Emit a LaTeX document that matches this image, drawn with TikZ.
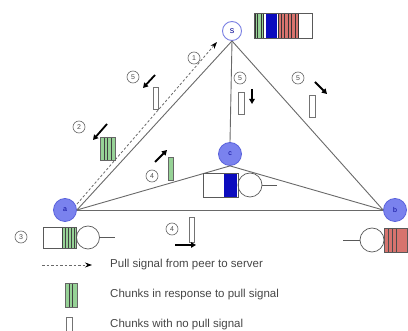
\documentclass[tikz,border=0pt]{standalone}
\usepackage{fontspec}
\setmainfont{Liberation Sans}
\usetikzlibrary{arrows.meta}

\definecolor{peerfill}{RGB}{122,130,238}
\definecolor{peerline}{RGB}{90,98,220}
\definecolor{chunkgreen}{RGB}{150,210,150}
\definecolor{chunkred}{RGB}{215,115,110}
\definecolor{qblue}{RGB}{12,12,190}
\definecolor{edgegray}{RGB}{105,105,105}
\definecolor{legendtext}{RGB}{70,70,70}

\tikzset{
  peer/.style={circle, draw=peerline, fill=peerfill, line width=0.8pt,
    minimum size=23pt, inner sep=0pt, text=qblue!80!black,
    font=\fontsize{7}{7}\selectfont},
  srv/.style={circle, draw=peerline!80, fill=white, line width=0.9pt,
    minimum size=19pt, inner sep=0pt, text=qblue!80!black,
    font=\fontsize{9}{9}\selectfont},
  link/.style={draw=edgegray, line width=0.9pt},
  pullsig/.style={draw=edgegray, line width=0.8pt, dash pattern=on 2.5pt off 2pt,
    -{Stealth[length=7pt,width=5pt,black]}},
  stepnum/.style={circle, draw=black!60, line width=0.6pt, inner sep=0pt,
    minimum size=12pt, font=\fontsize{7}{7}\selectfont, text=black!70},
  flow/.style={line width=1.8pt, black,
    -{Triangle[length=5pt,width=5.5pt]}},
  plainchunk/.style={draw=black!55, fill=white, line width=0.6pt,
    minimum width=5.5pt, minimum height=22pt, inner sep=0pt},
  greenchunk/.style={draw=black!60, fill=chunkgreen, line width=0.6pt,
    minimum width=5pt, minimum height=23pt, inner sep=0pt},
  stripes/.style={path picture={
    \foreach \t in {#1}
      \draw[black!75, line width=0.5pt]
        ([xshift=\t]path picture bounding box.north west) --
        ([xshift=\t]path picture bounding box.south west);}},
  qline/.style={draw=black!65, line width=0.7pt},
  legendlabel/.style={anchor=west, text=legendtext,
    font=\fontsize{11.5}{12}\selectfont, inner sep=0pt}
}

\begin{document}
\begin{tikzpicture}[x=1pt, y=-1pt]
\useasboundingbox (0,0) rectangle (408,331);

% server and peers
\node[srv]  (s) at (232,31)  {s};
\node[peer] (a) at (65,210)  {a};
\node[peer] (b) at (395,210) {b};
\node[peer] (c) at (230,154) {c};

% overlay links, all leaving each node from one port
\draw[link] (s.south) -- (a.east);
\draw[link] (s.south) -- (b.west);
\draw[link] (s.south) -- (c.north);
\draw[link] (a.east) -- (b.west);
\draw[link] (a.east) -- (c.south) -- (b.west);

% pull signal from a to the server
\coordinate (pa) at (77,204);
\coordinate (ps) at (217,42);
\draw[pullsig] (pa) -- (ps);

% step numbers
\node[stepnum] (n1)  at (194,58)  {1};
\node[stepnum] (n2)  at (79,127)  {2};
\node[stepnum] (n3)  at (21,237)  {3};
\node[stepnum] (n4a) at (152,176) {4};
\node[stepnum] (n4b) at (172,229) {4};
\node[stepnum] (n5a) at (133,77)  {5};
\node[stepnum] (n5b) at (240,78)  {5};
\node[stepnum] (n5c) at (298,78)  {5};

% chunks in transit
\node[greenchunk, minimum width=15pt, stripes={4pt,7.5pt,11pt}] (k2) at (107.5,148.5) {};
\node[plainchunk] (k5a) at (156,98) {};
\node[plainchunk] (k5b) at (241.5,103.5) {};
\node[plainchunk] (k5c) at (312.5,106) {};
\node[greenchunk] (k4a) at (170.5,168.5) {};
\node[plainchunk, minimum width=4.5pt, minimum height=25pt] (k4b) at (192,229.5) {};

% direction of each chunk
\coordinate (f2s) at (107,124);  \coordinate (f2e) at (93,140);
\coordinate (f5as) at (155,75);  \coordinate (f5ae) at (143,88);
\coordinate (f4as) at (155,162); \coordinate (f4ae) at (167,150);
\coordinate (f4bs) at (175,245); \coordinate (f4be) at (196,245);
\coordinate (f5bs) at (252,89);  \coordinate (f5be) at (252,104);
\coordinate (f5cs) at (315,82);  \coordinate (f5ce) at (327,94);
\draw[flow] (f2s) -- (f2e);
\draw[flow] (f5as) -- (f5ae);
\draw[flow] (f4as) -- (f4ae);
\draw[flow] (f4bs) -- (f4be);
\draw[flow] (f5bs) -- (f5be);
\draw[flow] (f5cs) -- (f5ce);

% server buffer
\fill[chunkgreen] (255,13) rectangle (263,38);
\fill[qblue] (266,13) rectangle (277,38);
\fill[chunkred] (278,13) rectangle (298,38);
\foreach \x in {255,257,261,263,278,281,284,288,291,295,298}
  \draw[black!80, line width=0.6pt] (\x,13) -- (\x,38);
\draw[qline] (254,13) rectangle (312,38);

% queue at c
\fill[qblue] (224,173) rectangle (237,197);
\draw[qline] (203,173) rectangle (238,197);
\draw[qline] (250,185) circle[radius=12];
\draw[qline] (262,185) -- (277,185);

% queue at a
\fill[chunkgreen] (62,227) rectangle (76,248);
\foreach \x in {62,65,68,71,74}
  \draw[black!75, line width=0.5pt] (\x,227) -- (\x,248);
\draw[qline] (43,227) rectangle (76,248);
\draw[qline] (88,237.5) circle[radius=11.5];
\draw[qline] (99.5,237.5) -- (115,237.5);

% queue at b
\draw[qline] (343,240) -- (360,240);
\draw[qline] (372,240) circle[radius=12];
\fill[chunkred] (384,228) rectangle (407,252);
\foreach \x in {388,392,396}
  \draw[black!70, line width=0.6pt] (\x,228) -- (\x,252);
\draw[qline] (384,228) rectangle (407,252);

% legend
\coordinate (lg1) at (42,265);
\coordinate (lg2) at (92,265);
\draw[pullsig] (lg1) -- (lg2);
\node[legendlabel] (t1) at (110,265) {Pull signal from peer to server};
\node[greenchunk, minimum width=12pt, minimum height=24pt, stripes={4.5pt,7.5pt}] (lk1) at (71,295) {};
\node[legendlabel] (t2) at (110,295) {Chunks in response to pull signal};
\node[plainchunk, minimum width=6pt, minimum height=14pt] (lk2) at (69,324) {};
\node[legendlabel] (t3) at (110,325) {Chunks with no pull signal};
\end{tikzpicture}
\end{document}
